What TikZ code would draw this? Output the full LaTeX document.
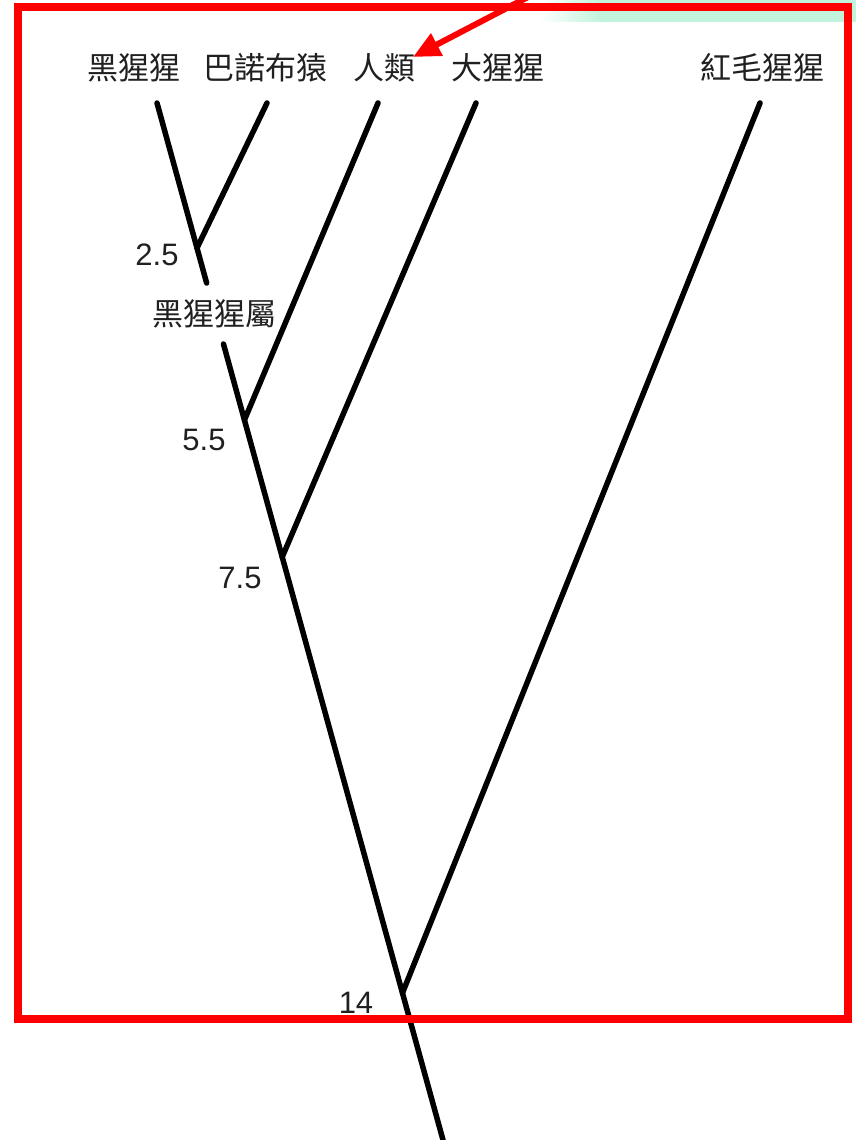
\documentclass[tikz,border=0pt]{standalone}
\usepackage{fontspec}
\setmainfont{Liberation Sans}
\newfontfamily\cjk{Noto Sans CJK TC}
\usetikzlibrary{arrows.meta,calc}
\definecolor{bandgreen}{HTML}{C2F3DC}
\definecolor{txtgray}{HTML}{202020}
\tikzset{
  branch/.style={line width=5.5pt, black, line cap=round},
  species/.style={font=\cjk\fontsize{31}{32}\selectfont, text=txtgray, inner sep=0pt, anchor=center},
  age/.style={font=\fontsize{31}{32}\selectfont, text=txtgray, inner sep=0pt, anchor=center},
  frame/.style={draw=red, line width=8pt},
  pointer/.style={draw=red, line width=6pt, -{Triangle[length=27pt,width=24pt]}}
}
\begin{document}
\begin{tikzpicture}[x=1pt,y=-1pt]
\useasboundingbox (0,0) rectangle (856,1140);
\fill[white] (0,0) rectangle (856,1140);
% green band at top right
\shade[left color=white, right color=bandgreen] (540,0) rectangle (600,22);
\fill[bandgreen] (600,0) rectangle (856,22);

% tips and junctions
\coordinate (t1) at (157,103);
\coordinate (t2) at (267,103);
\coordinate (t3) at (378,103);
\coordinate (t4) at (476,103);
\coordinate (t5) at (760,103);
\coordinate (root) at (443,1140);
\coordinate (j1) at ($(t1)!0.1398!(root)$);
\coordinate (g1) at ($(t1)!0.1736!(root)$);
\coordinate (g2) at ($(t1)!0.2324!(root)$);
\coordinate (j2) at ($(t1)!0.3057!(root)$);
\coordinate (j3) at ($(t1)!0.4378!(root)$);
\coordinate (j4) at ($(t1)!0.8582!(root)$);

% branches (main line interrupted by the genus label)
\draw[branch] (t1) -- (g1);
\draw[branch] (g2) -- (root);
\draw[branch] (t2) -- (j1);
\draw[branch] (t3) -- (j2);
\draw[branch] (t4) -- (j3);
\draw[branch] (t5) -- (j4);

% genus label
\node[species] (genus) at (214,314) {黑猩猩屬};

% species labels
\node[species] (chimp) at (133.5,67.5) {黑猩猩};
\node[species] (bonobo) at (265.5,67.5) {巴諾布猿};
\node[species] (human) at (384,67.5) {人類};
\node[species] (gorilla) at (497.5,67.5) {大猩猩};
\node[species] (orang) at (762.5,67.5) {紅毛猩猩};

% ages
\node[age] (a1) at (157,255) {2.5};
\node[age] (a2) at (204,440) {5.5};
\node[age] (a3) at (240,578) {7.5};
\node[age] (a4) at (356,1003) {14};

% red frame
\node[frame, inner sep=0pt, minimum width=830pt, minimum height=1012pt] (box) at (433,513) {};

% red pointer to humans
\coordinate (ptrstart) at (528,-3);
\coordinate (ptrtip) at (413,57);
\draw[pointer] (ptrstart) -- (ptrtip);
\end{tikzpicture}
\end{document}
